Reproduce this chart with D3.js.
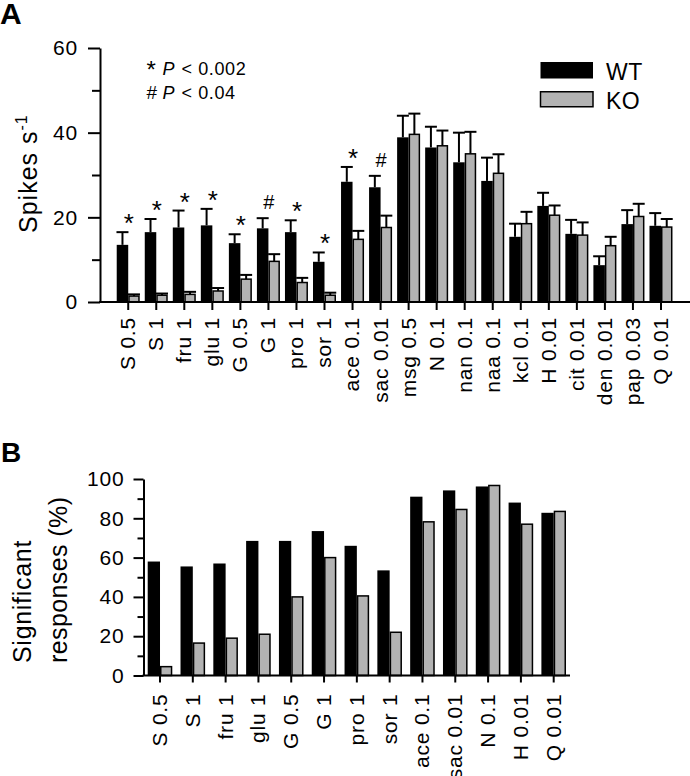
<!DOCTYPE html>
<html><head><meta charset="utf-8">
<script src="https://cdn.jsdelivr.net/npm/d3@7"></script>
<style>
html,body{margin:0;padding:0;background:#fff;}
svg{display:block;font-family:"Liberation Sans",Arial,Helvetica,sans-serif;}
</style></head>
<body>
<svg id="chart" width="690" height="776"></svg>
<script>
// ---------- Panel A data ----------
const catsA = ["S 0.5","S 1","fru 1","glu 1","G 0.5","G 1","pro 1","sor 1","ace 0.1","sac 0.01","msg 0.5","N 0.1","nan 0.1","naa 0.1","kcl 0.1","H 0.01","cit 0.01","den 0.01","pap 0.03","Q 0.01"];
const wtA   = [13.5,16.5,17.6,18.1,13.9,17.4,16.5,9.5,28.4,27.1,38.9,36.5,33.0,28.6,15.4,22.7,16.1,8.7,18.4,18.0];
const wtErrA= [3.0,3.1,4.0,3.9,2.1,2.4,2.8,2.2,3.5,2.7,5.1,4.9,7.0,5.5,3.1,3.1,3.3,2.1,3.3,3.0];
const koA   = [1.4,1.6,1.8,2.6,5.4,9.6,4.6,1.6,14.8,17.6,39.6,36.9,35.0,30.4,18.5,20.5,15.8,13.3,20.2,17.7];
const koErrA= [0.4,0.4,0.6,0.7,1.0,1.7,1.1,0.6,2.0,2.8,4.9,3.6,5.2,4.5,2.8,2.3,3.0,2.1,3.0,1.9];
const sigA  = ["*","*","*","*","*","#","*","*","*","#","","","","","","","","","",""];
const ticksA = [0,20,40,60];
const minorA = [10,30,50];

// ---------- Panel B data ----------
const catsB = ["S 0.5","S 1","fru 1","glu 1","G 0.5","G 1","pro 1","sor 1","ace 0.1","sac 0.01","N 0.1","H 0.01","Q 0.01"];
const wtB = [58,55.5,57,68.5,68.5,73.5,66,53.5,91,94.2,96.2,88,82.8];
const koB = [4.5,16.5,19,21,40,60,40.5,22,78.2,84.5,96.7,77,83.5];
const ticksB = [0,20,40,60,80,100];
const minorB = [10,30,50,70,90];

const seriesNames = ["WT","KO"];
const colors = {WT:"#000000", KO:"#b3b3b3"};

const svg = d3.select("#chart");
const FONT = 21;

// ================= PANEL A =================
(function(){
  const x0 = 100, x1 = 690, yTop = 48, yBot = 302;
  const y = d3.scaleLinear().domain([0,60]).range([yBot,yTop]);
  const x = d3.scaleBand().domain(catsA).range([114.2, 675.0]).padding(0);
  const bw = 11.5;
  const g = svg.append("g");

  g.selectAll("rect.wt").data(catsA).join("rect")
    .attr("x", d => x(d) + x.bandwidth()/2 - bw)
    .attr("y", (d,i) => y(wtA[i]))
    .attr("width", bw)
    .attr("height", (d,i) => y(0) - y(wtA[i]))
    .attr("fill", colors.WT);
  g.selectAll("rect.ko").data(catsA).join("rect")
    .attr("x", d => x(d) + x.bandwidth()/2 + 0.75)
    .attr("y", (d,i) => y(koA[i]))
    .attr("width", bw - 1.5)
    .attr("height", (d,i) => y(0) - y(koA[i]))
    .attr("fill", colors.KO).attr("stroke","#000").attr("stroke-width",1.5);

  function errs(vals, errs, off){
    catsA.forEach((c,i) => {
      const cx = x(c) + x.bandwidth()/2 + off;
      const top = y(vals[i] + errs[i]);
      g.append("line").attr("x1",cx).attr("x2",cx).attr("y1",y(vals[i])).attr("y2",top)
        .attr("stroke","#000").attr("stroke-width",2);
      g.append("line").attr("x1",cx-6).attr("x2",cx+6).attr("y1",top).attr("y2",top)
        .attr("stroke","#000").attr("stroke-width",2);
    });
  }
  errs(wtA, wtErrA, -bw/2);
  errs(koA, koErrA, bw/2);

  catsA.forEach((c,i) => {
    if(!sigA[i]) return;
    const cx = x(c) + x.bandwidth()/2 + 0.5;
    const top = y(wtA[i] + wtErrA[i]);
    if(sigA[i] === "*"){
      g.append("text").attr("x",cx).attr("y",top).attr("text-anchor","middle")
        .attr("font-size",26).text("*");
    } else {
      g.append("text").attr("x",cx).attr("y",top - 9).attr("text-anchor","middle")
        .attr("font-size",20).text("#");
    }
  });

  const ya = g.append("g").attr("transform",`translate(${x0},0)`)
    .call(d3.axisLeft(y).tickValues(ticksA).tickSize(12).tickSizeOuter(0).tickPadding(10).tickFormat(d3.format("d")));
  ya.select(".domain").attr("stroke-width",2);
  ya.selectAll(".tick line").attr("stroke-width",2);
  ya.selectAll("text").attr("font-size",FONT).attr("letter-spacing","0.8px").attr("font-family","Liberation Sans, Arial");
  const ym = g.append("g").attr("transform",`translate(${x0},0)`)
    .call(d3.axisLeft(y).tickValues(minorA).tickSize(8).tickSizeOuter(0).tickFormat(""));
  ym.select(".domain").remove();
  ym.selectAll(".tick line").attr("stroke-width",2);

  g.append("line").attr("x1",x0-1).attr("x2",x1).attr("y1",yBot).attr("y2",yBot).attr("stroke","#000").attr("stroke-width",2);
  const xa = g.append("g").attr("transform",`translate(0,${yBot})`)
    .call(d3.axisBottom(x).tickSize(8).tickSizeOuter(0));
  xa.select(".domain").remove();
  xa.selectAll(".tick line").attr("stroke-width",2);
  xa.selectAll("text").attr("transform","rotate(-90)").attr("text-anchor","end")
    .attr("x",-15).attr("y",0).attr("dy","0.33em")
    .attr("font-size",FONT).attr("letter-spacing","0.8px").attr("font-family","Liberation Sans, Arial");

  const t = g.append("text").attr("transform","translate(36.5,233) rotate(-90)")
    .attr("font-size",25).attr("letter-spacing","1px");
  t.append("tspan").text("Spikes s");
  t.append("tspan").attr("font-size",16).attr("dy",-10).text("-1");

  [["*",75],["#",99]].forEach(([s,yy]) => {
    g.append("text").attr("x",146.5).attr("y",yy + (s==="*"?3:0)).attr("font-size",s==="*"?24:19).text(s);
    g.append("text").attr("x",162.5).attr("y",yy).attr("font-size",18).attr("font-style","italic").text("P");
    g.append("text").attr("x",181.5).attr("y",yy).attr("font-size",18).attr("letter-spacing","0.6px")
      .text(s==="*" ? "< 0.002" : "< 0.04");
  });

  seriesNames.forEach((n,i) => {
    const ly = 62 + i*29;
    g.append("rect").attr("x",540.5).attr("y",ly + (n==="KO"?0.75:0)).attr("width",52.5)
      .attr("height",n==="KO"?15:16.5)
      .attr("fill",colors[n]).attr("stroke",n==="KO"?"#000":"none").attr("stroke-width",1.5);
    g.append("text").attr("x",606).attr("y",ly+18).attr("font-size",23).attr("letter-spacing","0.5px").text(n);
  });

  svg.append("text").attr("x",0).attr("y",24).attr("font-size",30).attr("font-weight","bold").text("A");
})();

// ================= PANEL B =================
(function(){
  const x0 = 143.5, x1 = 570, yTop = 479, yBot = 675.5;
  const y = d3.scaleLinear().domain([0,100]).range([yBot,yTop]);
  const x = d3.scaleBand().domain(catsB).range([143.6, 570.1]).padding(0);
  const bw = 12.3;
  const g = svg.append("g");

  g.selectAll("rect.wt").data(catsB).join("rect")
    .attr("x", d => x(d) + x.bandwidth()/2 - bw)
    .attr("y", (d,i) => y(wtB[i]))
    .attr("width", bw)
    .attr("height", (d,i) => y(0) - y(wtB[i]))
    .attr("fill", colors.WT);
  g.selectAll("rect.ko").data(catsB).join("rect")
    .attr("x", d => x(d) + x.bandwidth()/2 + 0.75)
    .attr("y", (d,i) => y(koB[i]))
    .attr("width", bw - 1.5)
    .attr("height", (d,i) => y(0) - y(koB[i]))
    .attr("fill", colors.KO).attr("stroke","#000").attr("stroke-width",1.5);

  const ya = g.append("g").attr("transform",`translate(${x0},0)`)
    .call(d3.axisLeft(y).tickValues(ticksB).tickSize(10).tickSizeOuter(0).tickPadding(9).tickFormat(d3.format("d")));
  ya.select(".domain").attr("stroke-width",2);
  ya.selectAll(".tick line").attr("stroke-width",2);
  ya.selectAll("text").attr("font-size",FONT).attr("letter-spacing","0.8px").attr("font-family","Liberation Sans, Arial");
  const ym = g.append("g").attr("transform",`translate(${x0},0)`)
    .call(d3.axisLeft(y).tickValues(minorB).tickSize(6).tickSizeOuter(0).tickFormat(""));
  ym.select(".domain").remove();
  ym.selectAll(".tick line").attr("stroke-width",2);

  g.append("line").attr("x1",x0-1).attr("x2",x1).attr("y1",yBot).attr("y2",yBot).attr("stroke","#000").attr("stroke-width",2);
  const xa = g.append("g").attr("transform",`translate(0,${yBot})`)
    .call(d3.axisBottom(x).tickSize(7).tickSizeOuter(0));
  xa.select(".domain").remove();
  xa.selectAll(".tick line").attr("stroke-width",2);
  xa.selectAll("text").attr("transform","rotate(-90)").attr("text-anchor","end")
    .attr("x",-18).attr("y",0).attr("dy","0.33em")
    .attr("font-size",FONT).attr("letter-spacing","0.8px").attr("font-family","Liberation Sans, Arial");

  g.append("text").attr("transform","translate(31,663) rotate(-90)").attr("font-size",25)
    .attr("letter-spacing","0.7px").text("Significant");
  g.append("text").attr("transform","translate(67,663) rotate(-90)").attr("font-size",25)
    .attr("letter-spacing","0.4px").text("responses (%)");

  svg.append("text").attr("x",1).attr("y",462).attr("font-size",28).attr("font-weight","bold").text("B");
})();
</script>
</body></html>
